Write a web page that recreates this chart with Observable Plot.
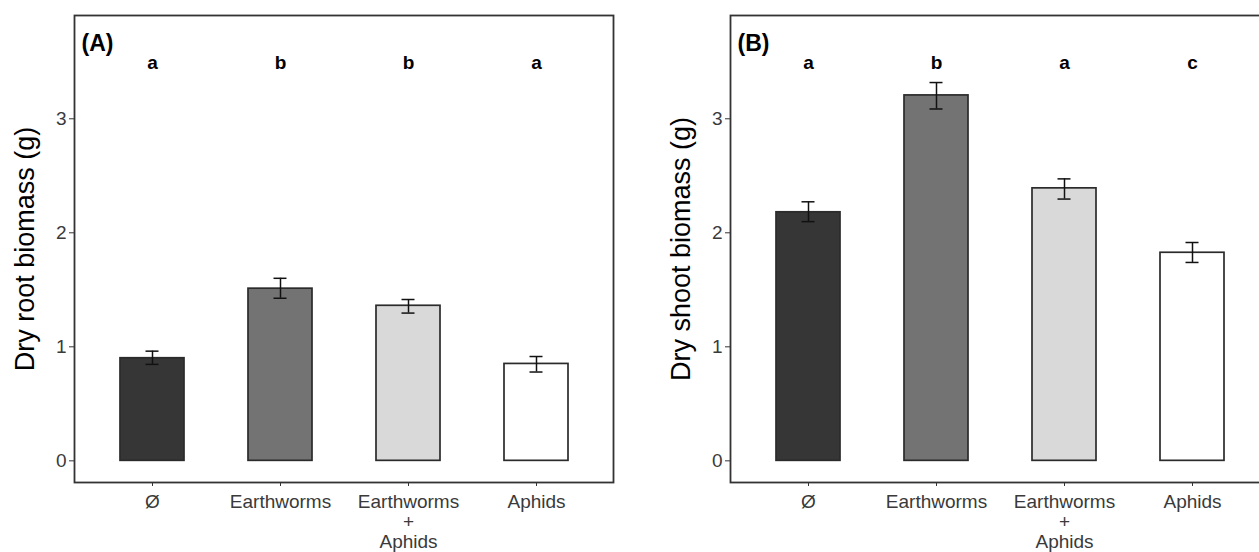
<!DOCTYPE html>
<html>
<head>
<meta charset="utf-8">
<script src="https://cdn.jsdelivr.net/npm/d3@7"></script>
<script src="https://cdn.jsdelivr.net/npm/@observablehq/plot@0.6"></script>
<style>
  html, body { margin: 0; padding: 0; background: #fff; overflow: hidden; width: 1259px; height: 552px; }
  #wrap { position: relative; width: 1259px; height: 552px; overflow: hidden; }
  #pa { position: absolute; left: 0; top: 0; width: 621px; }
  #pb { position: absolute; left: 630px; top: 0; width: 640px; }
  svg { max-width: none !important; }
</style>
</head>
<body>
<div id="wrap"><div id="pa"></div><div id="pb"></div></div>
<script>
// ---- data ----
const categories = ["Ø", "Earthworms", "Earthworms + Aphids", "Aphids"];
const tickLabels = ["Ø", "Earthworms", "Earthworms\n+\nAphids", "Aphids"];
const fills = ["#363636", "#737373", "#d9d9d9", "#ffffff"];

const rootMean  = [0.90, 1.51, 1.36, 0.85];
const rootUpper = [0.962, 1.601, 1.415, 0.915];
const rootLower = [0.846, 1.426, 1.296, 0.779];
const rootLetters = ["a", "b", "b", "a"];

const shootMean  = [2.18, 3.205, 2.39, 1.825];
const shootUpper = [2.272, 3.318, 2.473, 1.915];
const shootLower = [2.098, 3.086, 2.296, 1.740];
const shootLetters = ["a", "b", "a", "c"];

const yTicks = [0, 1, 2, 3];
const yDomain = [-0.19, 3.906];

const FONT = "'Liberation Sans', Arial, Helvetica, sans-serif";

function panel(mean, upper, lower, letters, panelLabel, yTitle, marginLeft, width) {
  const data = categories.map((c, i) => ({
    cat: c, label: tickLabels[i], mean: mean[i], upper: upper[i], lower: lower[i], letter: letters[i]
  }));
  return Plot.plot({
    width, height: 552,
    marginLeft, marginRight: width - marginLeft - 539, marginTop: 15, marginBottom: 70,
    style: { fontFamily: FONT, background: "#fff", overflow: "visible", maxWidth: "none" },
    x: { domain: categories, paddingInner: 0.5, paddingOuter: 0.35, axis: null },
    y: { domain: yDomain, axis: null },
    color: { domain: categories, range: fills },
    marks: [
      Plot.barY(data, { x: "cat", y1: 0, y2: "mean", fill: "cat", stroke: "#2b2b2b", strokeWidth: 1.7 }),
      Plot.ruleX(data, { x: "cat", y1: "lower", y2: "upper", stroke: "#111", strokeWidth: 1.5 }),
      Plot.tickY(data, { x: "cat", y: "upper", stroke: "#111", strokeWidth: 1.5, insetLeft: 25.5, insetRight: 25.5 }),
      Plot.tickY(data, { x: "cat", y: "lower", stroke: "#111", strokeWidth: 1.5, insetLeft: 25.5, insetRight: 25.5 }),
      Plot.text(data, { x: "cat", text: "letter", frameAnchor: "top", dy: 47, lineAnchor: "middle", fontSize: 19, fontWeight: "bold", fill: "#000" }),
      Plot.text([panelLabel], { text: d => d, frameAnchor: "top-left", dx: 7, dy: 28, textAnchor: "start", lineAnchor: "middle", fontSize: 23, fontWeight: "bold", fill: "#000" }),
      Plot.axisY({ ticks: yTicks, tickSize: 5, tickPadding: 3, fontSize: 19, fill: "#3a3a3a", stroke: "#333", label: null, tickFormat: d3.format("d") }),
      Plot.axisX({ ticks: categories, tickSize: 4, tickFormat: () => "", stroke: "#333", label: null }),
      Plot.text(data, { x: "cat", text: "label", frameAnchor: "bottom", dy: 11, lineAnchor: "top", lineHeight: 1.05, fontSize: 19, fill: "#3a3a3a" }),
      Plot.text([yTitle], { text: d => d, frameAnchor: "left", dx: -49, rotate: -90, textAnchor: "middle", lineAnchor: "middle", fontSize: 27, fill: "#000" }),
      Plot.frame({ stroke: "#333", strokeWidth: 1.8 })
    ]
  });
}

document.getElementById("pa").append(
  panel(rootMean, rootUpper, rootLower, rootLetters, "(A)", "Dry root biomass (g)", 74, 621)
);
document.getElementById("pb").append(
  panel(shootMean, shootUpper, shootLower, shootLetters, "(B)", "Dry shoot biomass (g)", 100, 640)
);
</script>
</body>
</html>
